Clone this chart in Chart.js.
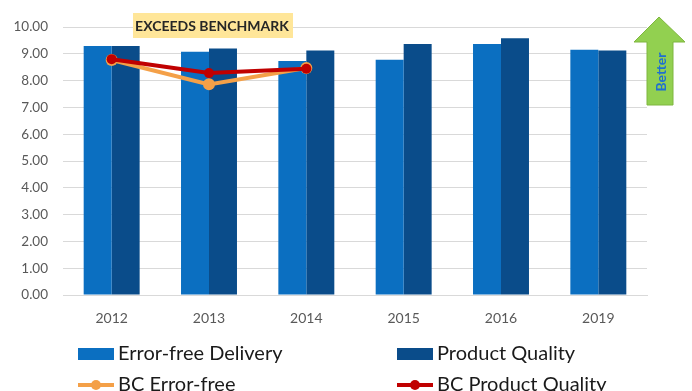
<!DOCTYPE html>
<html>
<head>
<meta charset="utf-8">
<script src="https://cdn.jsdelivr.net/npm/chart.js@4.4.1/dist/chart.umd.min.js"></script>
<style>
  html, body { margin: 0; padding: 0; background: #fff; }
  #wrap { width: 692px; height: 391px; }
</style>
</head>
<body>
<div id="wrap"><canvas id="grafico" width="692" height="391"></canvas></div>
<script>
const anos = ['2012', '2013', '2014', '2015', '2016', '2019'];
const errorFree = [9.29, 9.08, 8.73, 8.78, 9.37, 9.15];
const productQuality = [9.29, 9.20, 9.12, 9.37, 9.58, 9.12];
const bcErrorFree = [8.77, 7.86, 8.47, null, null, null];
const bcProductQuality = [8.80, 8.28, 8.44, null, null, null];
const yTicks = [0, 1, 2, 3, 4, 5, 6, 7, 8, 9, 10];

const FONT = 'Lato, "Open Sans", sans-serif';

// banner, arrow and the two-column legend at the bottom
const extras = {
    id: 'extras',
    afterDraw(chart) {
        const ctx = chart.ctx;
        ctx.save();

        // EXCEEDS BENCHMARK label
        ctx.fillStyle = '#ffe699';
        ctx.fillRect(133, 13, 160, 25);
        ctx.fillStyle = '#262626';
        ctx.font = 'bold 14px ' + FONT;
        ctx.textAlign = 'center';
        ctx.textBaseline = 'middle';
        ctx.fillText('EXCEEDS BENCHMARK', 212, 26);

        // green "Better" arrow
        ctx.beginPath();
        ctx.moveTo(659, 17);
        ctx.lineTo(685, 42);
        ctx.lineTo(673, 42);
        ctx.lineTo(673, 105);
        ctx.lineTo(647, 105);
        ctx.lineTo(647, 42);
        ctx.lineTo(634, 42);
        ctx.closePath();
        ctx.fillStyle = '#92d050';
        ctx.fill();
        ctx.strokeStyle = '#7fb63f';
        ctx.lineWidth = 1;
        ctx.stroke();
        ctx.translate(661, 72);
        ctx.rotate(-Math.PI / 2);
        ctx.fillStyle = '#1f6fd0';
        ctx.font = 'bold 14px ' + FONT;
        ctx.fillText('Better', 0, 0);
        ctx.setTransform(1, 0, 0, 1, 0, 0);

        // legend
        const pos = [[78, 354], [397, 354], [78, 385], [397, 385]];
        const ds = chart.data.datasets;
        ctx.font = '20px ' + FONT;
        ctx.textAlign = 'left';
        ctx.textBaseline = 'middle';
        ds.forEach((d, i) => {
            const [x, y] = pos[i];
            if (d.type === 'line') {
                ctx.strokeStyle = d.borderColor;
                ctx.lineWidth = 4;
                ctx.beginPath();
                ctx.moveTo(x, y);
                ctx.lineTo(x + 36, y);
                ctx.stroke();
                ctx.fillStyle = d.borderColor;
                ctx.beginPath();
                ctx.arc(x + 18, y, 5, 0, Math.PI * 2);
                ctx.fill();
            } else {
                ctx.fillStyle = d.backgroundColor;
                ctx.fillRect(x, y - 6, 36, 12);
            }
            ctx.fillStyle = '#1a1a1a';
            ctx.fillText(d.label, x + 40, y);
        });
        ctx.restore();
    }
};

const ctx = document.getElementById('grafico').getContext('2d');
const chart = new Chart(ctx, {
    type: 'bar',
    data: {
        labels: anos,
        datasets: [
            {
                label: 'Error-free Delivery',
                data: errorFree,
                backgroundColor: '#0b6fc1',
                order: 3
            },
            {
                label: 'Product Quality',
                data: productQuality,
                backgroundColor: '#0a4c8a',
                order: 3
            },
            {
                type: 'line',
                label: 'BC Error-free',
                data: bcErrorFree,
                borderColor: '#f4a048',
                backgroundColor: '#f4a048',
                borderWidth: 4,
                pointRadius: 6,
                pointBackgroundColor: '#f4a048',
                pointBorderWidth: 0,
                order: 2
            },
            {
                type: 'line',
                label: 'BC Product Quality',
                data: bcProductQuality,
                borderColor: '#c00000',
                backgroundColor: '#c00000',
                borderWidth: 4,
                pointRadius: 5,
                pointBackgroundColor: '#c00000',
                pointBorderWidth: 0,
                order: 1
            }
        ]
    },
    options: {
        responsive: false,
        animation: false,
        layout: {
            padding: { top: 27, right: 45, bottom: 61, left: 0 }
        },
        datasets: {
            bar: { categoryPercentage: 0.575, barPercentage: 1.0 }
        },
        scales: {
            x: {
                grid: { display: false },
                border: { color: '#d9d9d9' },
                ticks: { color: '#595959', font: { family: FONT, size: 14 }, padding: 7 },
                afterFit(scale) { scale.height = 35; }
            },
            y: {
                min: 0,
                max: 10,
                afterBuildTicks(scale) { scale.ticks = yTicks.map(v => ({ value: v })); },
                grid: { color: '#d9d9d9', drawTicks: false },
                border: { display: false },
                ticks: {
                    color: '#595959',
                    font: { family: FONT, size: 13.5 },
                    padding: 15,
                    callback: v => v.toFixed(2)
                },
                afterFit(scale) { scale.width = 63; }
            }
        },
        plugins: {
            legend: { display: false },
            tooltip: { enabled: false }
        }
    },
    plugins: [extras]
});
</script>
</body>
</html>
